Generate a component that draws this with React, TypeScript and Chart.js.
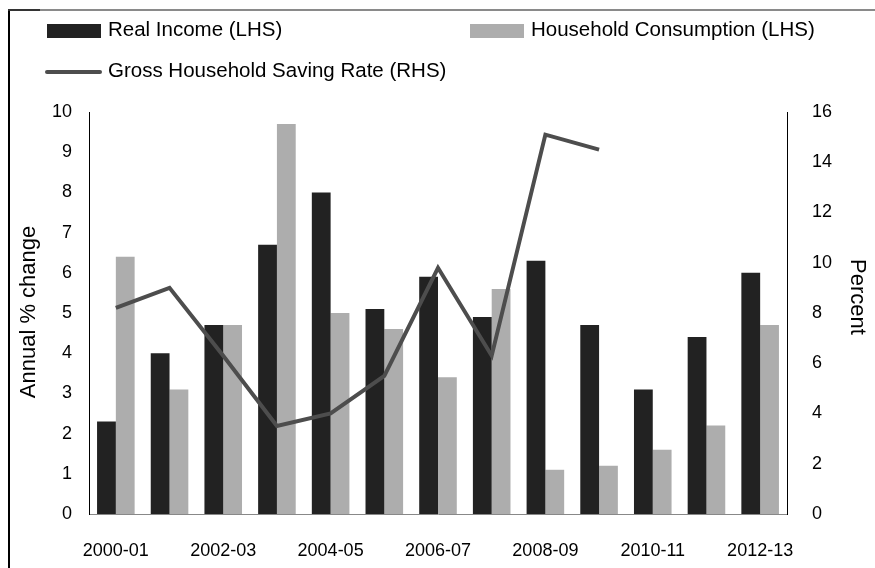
import React, { useEffect, useRef } from "react";
import { Chart, registerables } from "chart.js";

Chart.register(...registerables);

const categories = [
  "2000-01", "2001-02", "2002-03", "2003-04", "2004-05", "2005-06", "2006-07",
  "2007-08", "2008-09", "2009-10", "2010-11", "2011-12", "2012-13",
];
const realIncome = [2.3, 4.0, 4.7, 6.7, 8.0, 5.1, 5.9, 4.9, 6.3, 4.7, 3.1, 4.4, 6.0];
const householdConsumption = [6.4, 3.1, 4.7, 9.7, 5.0, 4.6, 3.4, 5.6, 1.1, 1.2, 1.6, 2.2, 4.7];
const savingRate = [8.2, 9.0, 6.3, 3.5, 4.0, 5.5, 9.8, 6.3, 15.1, 14.5, null, null, null];
const leftTicks = [0, 10, 1];
const rightTicks = [0, 16, 2];

const FONT = '"Liberation Sans", Arial, sans-serif';
const DARK = "#222222";
const LIGHT = "#adadad";
const LINE = "#4d4d4d";

const titlesPlugin = {
  id: "axisTitles",
  afterDraw(chart: any) {
    const ctx = chart.ctx;
    ctx.save();
    ctx.fillStyle = "#000";
    ctx.font = `22px ${FONT}`;
    ctx.textAlign = "center";
    ctx.textBaseline = "middle";
    ctx.translate(29, 312);
    ctx.rotate(-Math.PI / 2);
    ctx.fillText("Annual % change", 0, 0);
    ctx.restore();
    ctx.save();
    ctx.fillStyle = "#000";
    ctx.font = `22px ${FONT}`;
    ctx.textAlign = "center";
    ctx.textBaseline = "middle";
    ctx.translate(857, 297);
    ctx.rotate(Math.PI / 2);
    ctx.fillText("Percent", 0, 0);
    ctx.restore();
  },
};

export default function App() {
  const ref = useRef<HTMLCanvasElement | null>(null);

  useEffect(() => {
    if (!ref.current) return;
    const chart = new Chart(ref.current, {
      type: "bar",
      data: {
        labels: categories,
        datasets: [
          {
            type: "line",
            label: "Gross Household Saving Rate (RHS)",
            data: savingRate as any,
            borderColor: LINE,
            backgroundColor: LINE,
            borderWidth: 4,
            pointRadius: 0,
            tension: 0,
            spanGaps: false,
            yAxisID: "y1",
            order: 0,
          } as any,
          {
            type: "bar",
            label: "Real Income (LHS)",
            data: realIncome,
            backgroundColor: DARK,
            yAxisID: "y",
            order: 1,
            categoryPercentage: 0.7,
            barPercentage: 1.0,
          },
          {
            type: "bar",
            label: "Household Consumption (LHS)",
            data: householdConsumption,
            backgroundColor: LIGHT,
            yAxisID: "y",
            order: 1,
            categoryPercentage: 0.7,
            barPercentage: 1.0,
          },
        ],
      },
      options: {
        responsive: false,
        animation: false,
        layout: { padding: { top: 112, left: 0, right: 0, bottom: 0 } },
        plugins: {
          legend: { display: false },
          tooltip: { enabled: false },
        },
        scales: {
          x: {
            type: "category",
            offset: true,
            grid: { display: false, drawTicks: false },
            border: { display: true, color: "#888888", width: 1 },
            ticks: {
              autoSkip: false,
              maxRotation: 0,
              minRotation: 0,
              padding: 26,
              color: "#000",
              font: { family: FONT, size: 18 },
              callback: (_v: any, i: number) => (i % 2 === 0 ? categories[i] : ""),
            },
            afterFit: (s: any) => {
              s.height = 54;
            },
          },
          y: {
            position: "left",
            min: leftTicks[0],
            max: leftTicks[1],
            grid: { display: false, drawTicks: false },
            border: { display: true, color: "#000", width: 1 },
            ticks: {
              stepSize: leftTicks[2],
              padding: 17,
              color: "#000",
              font: { family: FONT, size: 18 },
            },
            afterFit: (s: any) => {
              s.width = 89;
            },
          },
          y1: {
            position: "right",
            min: rightTicks[0],
            max: rightTicks[1],
            grid: { display: false, drawTicks: false },
            border: { display: true, color: "#000", width: 1 },
            ticks: {
              stepSize: rightTicks[2],
              padding: 25,
              color: "#000",
              font: { family: FONT, size: 18 },
            },
            afterFit: (s: any) => {
              s.width = 88;
            },
          },
        },
      },
      plugins: [titlesPlugin],
    } as any);
    return () => chart.destroy();
  }, []);

  const text: React.CSSProperties = {
    position: "absolute",
    fontFamily: FONT,
    fontSize: "20.5px",
    lineHeight: "20px",
    color: "#000",
    whiteSpace: "nowrap",
  };

  return (
    <div style={{ position: "absolute", left: 0, top: 0, width: 875, height: 568, background: "#fff", overflow: "hidden" }}>
      <canvas ref={ref} width={875} height={568} style={{ position: "absolute", left: 0, top: 0, width: 875, height: 568 }} />
      <div style={{ position: "absolute", left: 8, top: 9, width: 867, height: 559, borderLeft: "2px solid #000", borderTop: "2px solid #8a8a8a", boxSizing: "border-box" }} />
      <div style={{ position: "absolute", left: 8, top: 9, width: 32, height: 2, background: "#333" }} />
      <div style={{ position: "absolute", left: 47, top: 24, width: 54, height: 14, background: DARK }} />
      <div style={{ ...text, left: 108, top: 19 }}>Real Income (LHS)</div>
      <div style={{ position: "absolute", left: 470, top: 24, width: 54, height: 14, background: LIGHT }} />
      <div style={{ ...text, left: 531, top: 19 }}>Household Consumption (LHS)</div>
      <div style={{ position: "absolute", left: 45, top: 70, width: 57, height: 4, background: LINE, borderRadius: 2 }} />
      <div style={{ ...text, left: 108, top: 60 }}>Gross Household Saving Rate (RHS)</div>
    </div>
  );
}
